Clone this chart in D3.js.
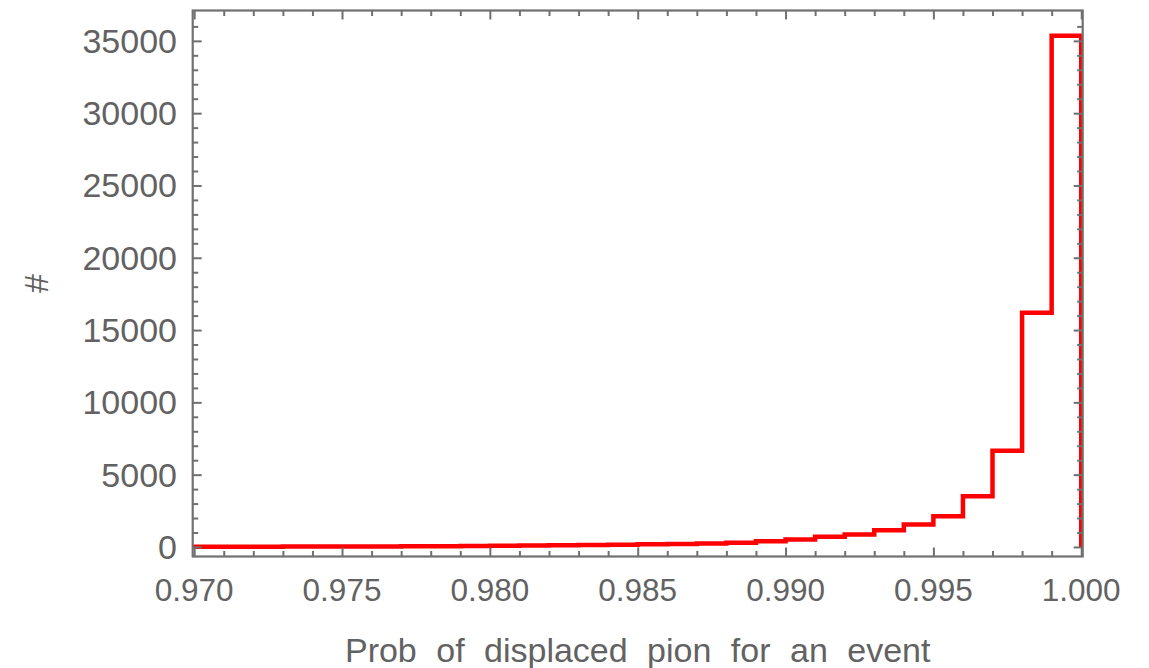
<!DOCTYPE html>
<html>
<head>
<meta charset="utf-8">
<script src="https://cdn.jsdelivr.net/npm/d3@7"></script>
<style>
  html, body { margin: 0; padding: 0; background: #ffffff; }
  svg { display: block; }
</style>
</head>
<body>
<svg id="chart" width="1149" height="668"></svg>
<script>
// Histogram of per-event probabilities, bins of width 0.001
const binStarts = [
  0.970, 0.971, 0.972, 0.973, 0.974, 0.975, 0.976, 0.977, 0.978, 0.979,
  0.980, 0.981, 0.982, 0.983, 0.984, 0.985, 0.986, 0.987, 0.988, 0.989,
  0.990, 0.991, 0.992, 0.993, 0.994, 0.995, 0.996, 0.997, 0.998, 0.999
];
const counts = [
  15, 18, 20, 25, 28, 32, 38, 45, 52, 62,
  85, 100, 115, 135, 155, 180, 210, 245, 295, 400,
  520, 700, 870, 1150, 1560, 2120, 3500, 6650, 16200, 35350
];
const binWidth = 0.001;
const xTickValues = [0.970, 0.975, 0.980, 0.985, 0.990, 0.995, 1.000];
const yTickValues = [0, 5000, 10000, 15000, 20000, 25000, 30000, 35000];
const xLabel = "Prob of displaced pion for an event";
const yLabel = "#";

const svg = d3.select("#chart");
const frame = { left: 192.7, right: 1082.7, top: 10.5, bottom: 556.5 };

const x = d3.scaleLinear().domain([0.96995, 1.00005]).range([frame.left, frame.right]);
const y = d3.scaleLinear().domain([-660, 37100]).range([frame.bottom, frame.top]);

const frameColor = "#707070";
const textColor = "#626262";
const fontFamily = "'Liberation Sans', Arial, sans-serif";

// clip for the data
svg.append("defs").append("clipPath").attr("id", "plotClip")
  .append("rect")
  .attr("x", frame.left).attr("y", frame.top)
  .attr("width", frame.right - frame.left)
  .attr("height", frame.bottom - frame.top);

// step outline of the histogram
const pts = [];
pts.push([binStarts[0], 0]);
binStarts.forEach((b, i) => {
  pts.push([b, counts[i]]);
  pts.push([b + binWidth, counts[i]]);
});
pts.push([binStarts[binStarts.length - 1] + binWidth, 0]);

const line = d3.line().x(d => x(d[0])).y(d => y(d[1]));
svg.append("path")
  .attr("clip-path", "url(#plotClip)")
  .attr("d", line(pts))
  .attr("fill", "none")
  .attr("stroke", "#ff0000")
  .attr("stroke-width", 4.5)
  .attr("stroke-linejoin", "miter");

// frame ticks (inward, all four sides)
const majorLen = 9, minorLen = 5.5;
const xMinor = d3.range(0, 31).map(i => +(0.970 + i * 0.001).toFixed(3))
  .filter(v => !xTickValues.some(t => Math.abs(t - v) < 1e-9));
const yMinor = d3.range(0, 38).map(i => i * 1000)
  .filter(v => v % 5000 !== 0 && y(v) > frame.top + 2);

const sides = [
  { pos: `translate(0,${frame.bottom})`, make: s => d3.axisTop(s), scale: x, majors: xTickValues, minors: xMinor },
  { pos: `translate(0,${frame.top})`, make: s => d3.axisBottom(s), scale: x, majors: xTickValues, minors: xMinor },
  { pos: `translate(${frame.left},0)`, make: s => d3.axisRight(s), scale: y, majors: yTickValues, minors: yMinor },
  { pos: `translate(${frame.right},0)`, make: s => d3.axisLeft(s), scale: y, majors: yTickValues, minors: yMinor }
];

sides.forEach(side => {
  [[side.majors, majorLen], [side.minors, minorLen]].forEach(([vals, len]) => {
    const g = svg.append("g").attr("transform", side.pos);
    g.call(side.make(side.scale).tickValues(vals).tickSize(len).tickFormat(""));
    g.select(".domain").remove();
    g.selectAll(".tick line").attr("stroke", frameColor).attr("stroke-width", 2);
  });
});

// frame
svg.append("rect")
  .attr("x", frame.left).attr("y", frame.top)
  .attr("width", frame.right - frame.left)
  .attr("height", frame.bottom - frame.top)
  .attr("fill", "none")
  .attr("stroke", frameColor)
  .attr("stroke-width", 2.2);

// tick labels
const xFmt = d3.format(".3f");
svg.append("g").selectAll("text").data(xTickValues).join("text")
  .attr("x", d => x(d))
  .attr("y", 601)
  .attr("text-anchor", "middle")
  .attr("font-family", fontFamily)
  .attr("font-size", 31.5)
  .attr("fill", textColor)
  .text(d => xFmt(d));

svg.append("g").selectAll("text").data(yTickValues).join("text")
  .attr("x", 177)
  .attr("y", d => y(d) + 12)
  .attr("text-anchor", "end")
  .attr("font-family", fontFamily)
  .attr("font-size", 34)
  .attr("fill", textColor)
  .text(d => String(d));

// axis titles
svg.append("text")
  .attr("x", (frame.left + frame.right) / 2)
  .attr("y", 662)
  .attr("text-anchor", "middle")
  .attr("font-family", fontFamily)
  .attr("font-size", 34)
  .attr("word-spacing", 10)
  .attr("fill", textColor)
  .text(xLabel);

svg.append("text")
  .attr("transform", `translate(48,${(frame.top + frame.bottom) / 2}) rotate(-90)`)
  .attr("text-anchor", "middle")
  .attr("font-family", fontFamily)
  .attr("font-size", 34)
  .attr("fill", textColor)
  .text(yLabel);
</script>
</body>
</html>
